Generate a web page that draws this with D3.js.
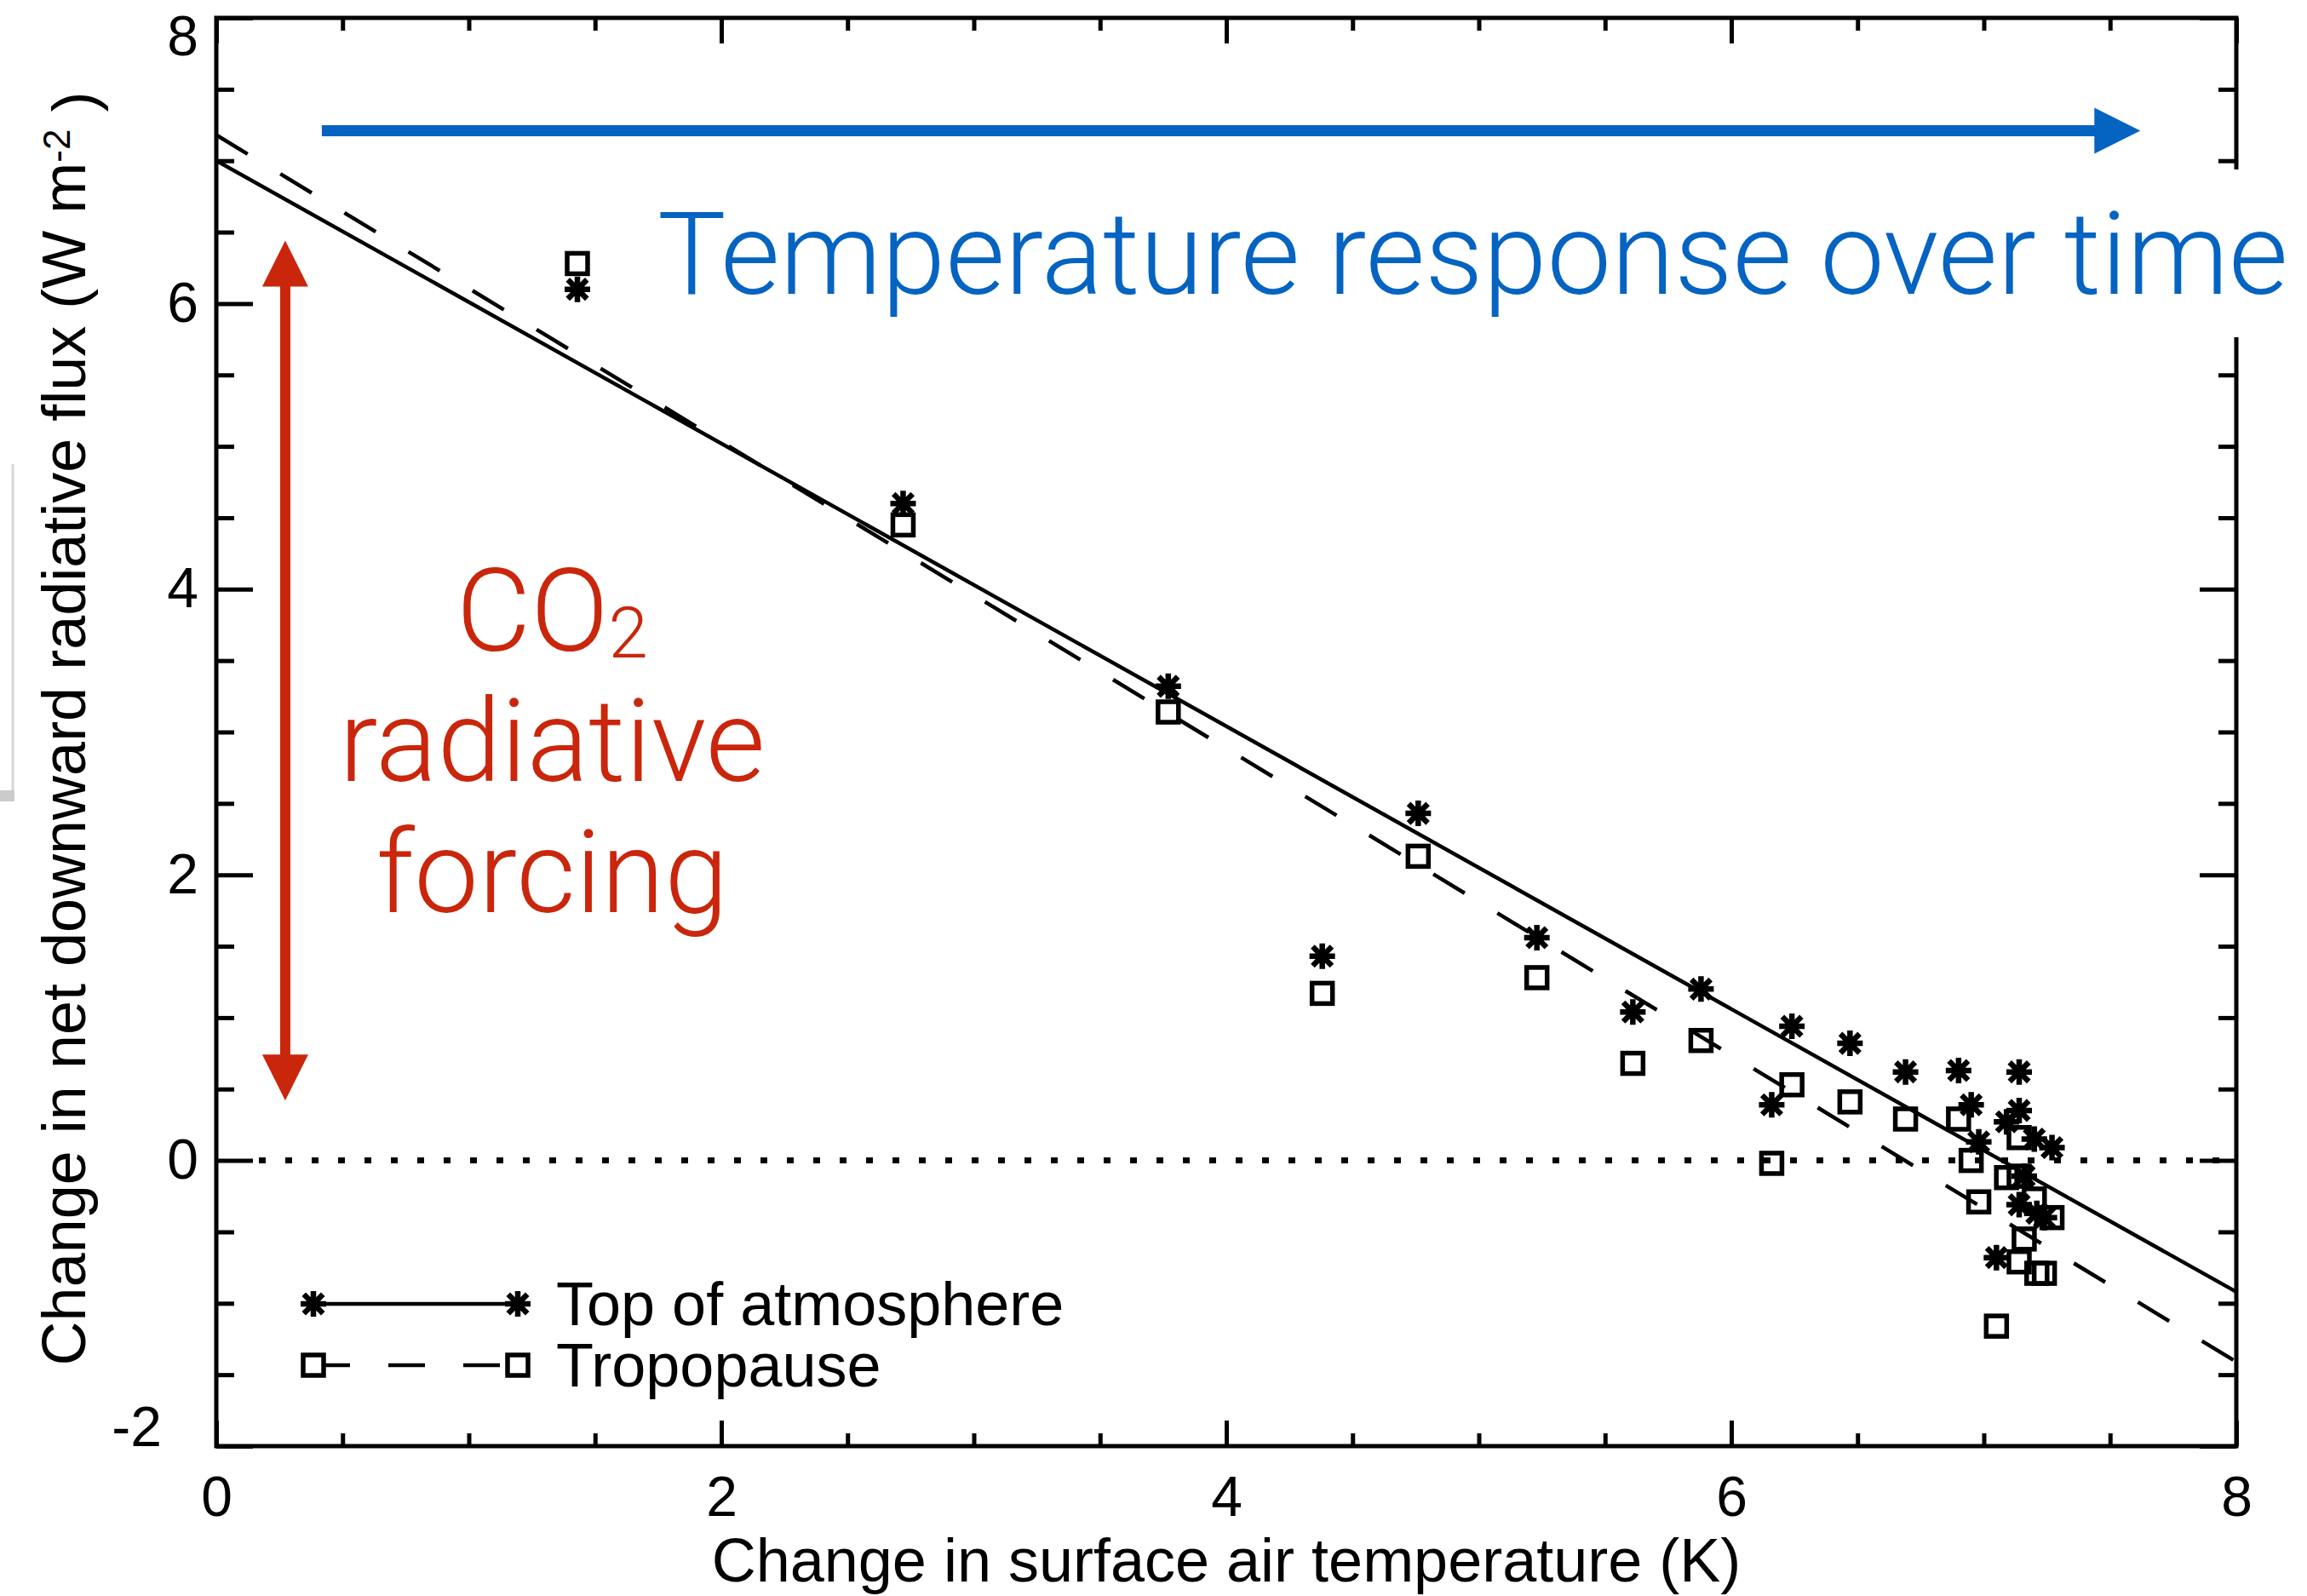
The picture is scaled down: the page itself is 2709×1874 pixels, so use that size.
<!DOCTYPE html>
<html>
<head>
<meta charset="utf-8">
<script src="https://cdn.jsdelivr.net/npm/d3@7"></script>
<style>
  body { margin: 0; background: #fff; }
  svg { display: block; }
</style>
</head>
<body>
<div id="chart"></div>
<script>
// annual means after CO2 quadrupling
const tempChange = [1.43, 2.72, 3.77, 4.38, 4.76, 5.23, 5.61, 5.88, 6.16, 6.24, 6.47, 6.69, 6.90,
  6.95, 6.98, 7.14, 7.14, 7.20, 7.27, 7.09, 7.14, 7.05, 7.16, 7.21, 7.24];
const toaFlux = [6.10, 4.60, 3.32, 1.43, 2.43, 1.56, 1.04, 1.20, 0.39, 0.94, 0.82, 0.62, 0.63,
  0.39, 0.13, 0.62, 0.35, 0.15, 0.09, 0.27, -0.31, -0.68, -0.11, -0.37, -0.40];
const tropFlux = [6.28, 4.45, 3.14, 1.17, 2.13, 1.28, 0.68, 0.84, -0.02, 0.53, 0.41, 0.29, 0.29,
  0.00, -0.29, 0.16, -0.11, -0.27, -0.40, -0.12, -0.71, -1.16, -0.55, -0.79, -0.79];

// regression lines
const fitX = [0, 8];
const toaFit = [7.00, -0.92];
const tropFit = [7.18, -1.41];

const xTicks = [0, 2, 4, 6, 8];
const yTicks = [-2, 0, 2, 4, 6, 8];
const seriesNames = ["Top of atmosphere", "Tropopause"];

const margin = {top: 21, right: 83, bottom: 176, left: 254},
    width = 2709 - margin.left - margin.right,
    height = 1874 - margin.top - margin.bottom;

const labelFont = "'Liberation Sans', Arial, Helvetica, sans-serif";
const noteFont = "Roboto, 'Open Sans', Lato, sans-serif";
const blue = "#0563c1";
const red = "#c9260c";

const svg = d3.select("#chart")
  .append("svg")
    .attr("width", 2709)
    .attr("height", 1874)
    .style("background-color", "white");

// faint leftover edge at far left
svg.append("line")
  .attr("x1", 15).attr("x2", 15).attr("y1", 545).attr("y2", 930)
  .attr("stroke", "#d6d6d6").attr("stroke-width", 3);
svg.append("rect")
  .attr("x", 0).attr("y", 928).attr("width", 17).attr("height", 13)
  .attr("fill", "#cbcbcb");

const g = svg.append("g")
  .attr("transform", `translate(${margin.left},${margin.top})`);

const x = d3.scaleLinear().domain([0, 8]).range([0, width]);
const y = d3.scaleLinear().domain([-2, 8]).range([height, 0]);

const xMinor = d3.range(0, 8.01, 0.5).filter(v => !xTicks.includes(v));
const yMinor = d3.range(-2, 8.01, 0.5).filter(v => !yTicks.includes(v));

function styleAxis(sel) {
  sel.select(".domain").remove();
  sel.selectAll(".tick line").attr("stroke", "black").attr("stroke-width", 5);
  sel.selectAll(".tick text")
    .attr("fill", "black")
    .style("font-family", labelFont)
    .style("font-size", "66px");
}

// zero line
g.append("line")
  .attr("x1", x(0) + 50).attr("x2", x(8))
  .attr("y1", y(0)).attr("y2", y(0))
  .attr("stroke", "black")
  .attr("stroke-width", 7)
  .attr("stroke-dasharray", "8,23");

// fits
const fitLine = d3.line().x(d => x(d[0])).y(d => y(d[1]));
g.append("path")
  .datum(d3.zip(fitX, toaFit))
  .attr("d", fitLine)
  .attr("fill", "none").attr("stroke", "black").attr("stroke-width", 4.5);
g.append("path")
  .datum(d3.zip(fitX, tropFit))
  .attr("d", fitLine)
  .attr("fill", "none").attr("stroke", "black").attr("stroke-width", 4.5)
  .attr("stroke-dasharray", "43,45");

// markers
const star = s => `M${-s},0H${s}M0,${-s}V${s}M${-s*0.75},${-s*0.75}L${s*0.75},${s*0.75}M${-s*0.75},${s*0.75}L${s*0.75},${-s*0.75}`;
const box = 24;

g.selectAll(".trop")
  .data(d3.zip(tempChange, tropFlux))
  .join("rect")
    .attr("class", "trop")
    .attr("x", d => x(d[0]) - box / 2)
    .attr("y", d => y(d[1]) - box / 2)
    .attr("width", box).attr("height", box)
    .attr("fill", "none").attr("stroke", "black").attr("stroke-width", 5.5);

g.selectAll(".toa")
  .data(d3.zip(tempChange, toaFlux))
  .join("path")
    .attr("class", "toa")
    .attr("d", star(15))
    .attr("transform", d => `translate(${x(d[0])},${y(d[1])})`)
    .attr("fill", "none").attr("stroke", "black").attr("stroke-width", 6.5);

// axes
g.append("g")
  .attr("transform", `translate(0,${height})`)
  .call(d3.axisBottom(x).tickValues(xTicks).tickSize(-30).tickPadding(35).tickFormat(d => String(d)))
  .call(styleAxis);
g.append("g")
  .attr("transform", `translate(0,${height})`)
  .call(d3.axisBottom(x).tickValues(xMinor).tickSize(-15).tickFormat(""))
  .call(styleAxis);
g.append("g")
  .call(d3.axisTop(x).tickValues(xTicks).tickSize(-30).tickFormat(""))
  .call(styleAxis);
g.append("g")
  .call(d3.axisTop(x).tickValues(xMinor).tickSize(-15).tickFormat(""))
  .call(styleAxis);

const yAxis = g.append("g")
  .call(d3.axisLeft(y).tickValues(yTicks).tickSize(-43).tickPadding(21).tickFormat(d => String(d)))
  .call(styleAxis);
// end labels are pulled inside the frame
yAxis.selectAll(".tick text").filter(d => d === 8).attr("y", 22);
yAxis.selectAll(".tick text").filter(d => d === -2).attr("y", -22).attr("x", -64);

g.append("g")
  .call(d3.axisLeft(y).tickValues(yMinor).tickSize(-21).tickFormat(""))
  .call(styleAxis);
g.append("g")
  .attr("transform", `translate(${width},0)`)
  .call(d3.axisRight(y).tickValues(yTicks).tickSize(-43).tickFormat(""))
  .call(styleAxis);
g.append("g")
  .attr("transform", `translate(${width},0)`)
  .call(d3.axisRight(y).tickValues(yMinor).tickSize(-21).tickFormat(""))
  .call(styleAxis);

g.append("rect")
  .attr("width", width).attr("height", height)
  .attr("fill", "none").attr("stroke", "black").attr("stroke-width", 5);

// axis titles
g.append("text")
  .attr("x", width / 2)
  .attr("y", height + 159)
  .attr("text-anchor", "middle")
  .style("font-family", labelFont)
  .style("font-size", "72px")
  .text("Change in surface air temperature (K)");

const yTitle = g.append("text")
  .attr("transform", `translate(${100 - margin.left},${height / 2 - 4}) rotate(-90)`)
  .attr("text-anchor", "middle")
  .style("font-family", labelFont)
  .style("font-size", "72px");
yTitle.append("tspan").text("Change in net downward radiative flux (W m");
yTitle.append("tspan").attr("dy", "-0.42em").style("font-size", "44px").text("-2");
yTitle.append("tspan").attr("dy", "0.42em").text(" )");

// legend
const legend = g.append("g").attr("transform", "translate(114,1510)");
const legendRow = 72;
seriesNames.forEach((name, i) => {
  const row = legend.append("g").attr("transform", `translate(0,${i * legendRow})`);
  row.append("line")
    .attr("x1", 0).attr("x2", 240)
    .attr("stroke", "black").attr("stroke-width", 4.5)
    .attr("stroke-dasharray", i === 0 ? null : "43,45");
  [0, 240].forEach(px => {
    if (i === 0) {
      row.append("path").attr("d", star(15)).attr("transform", `translate(${px},0)`)
        .attr("fill", "none").attr("stroke", "black").attr("stroke-width", 6.5);
    } else {
      row.append("rect").attr("x", px - box / 2).attr("y", -box / 2).attr("width", box).attr("height", box)
        .attr("fill", "white").attr("stroke", "black").attr("stroke-width", 5.5);
    }
  });
  row.append("text")
    .attr("x", 285)
    .attr("dy", "0.35em")
    .style("font-family", labelFont)
    .style("font-size", "72px")
    .text(name);
});

// annotations
function arrowHead(sel, tipX, tipY, dx, dy, len, half, color) {
  // dx, dy: unit direction of the arrow
  const bx = tipX - dx * len, by = tipY - dy * len;
  sel.append("path")
    .attr("d", `M${tipX},${tipY}L${bx - dy * half},${by + dx * half}L${bx + dy * half},${by - dx * half}Z`)
    .attr("fill", color);
}

// blue: time arrow
const timeY = y(7.21), timeX0 = x(0.418), timeX1 = x(7.62);
g.append("line")
  .attr("x1", timeX0).attr("x2", timeX1 - 50)
  .attr("y1", timeY).attr("y2", timeY)
  .attr("stroke", blue).attr("stroke-width", 13);
arrowHead(g, timeX1, timeY, 1, 0, 54, 27, blue);

// red: forcing double arrow
const forceX = x(0.273), forceY0 = y(6.44), forceY1 = y(0.42);
g.append("line")
  .attr("x1", forceX).attr("x2", forceX)
  .attr("y1", forceY0 + 50).attr("y2", forceY1 - 50)
  .attr("stroke", red).attr("stroke-width", 12);
arrowHead(g, forceX, forceY0, 0, -1, 54, 27, red);
arrowHead(g, forceX, forceY1, 0, 1, 54, 27, red);

// blue label with white backing box
const noteSize0 = 125;
const timeX = x(1.747), timeBase = y(6.07);
const backing = g.append("rect").attr("fill", "white");
const timeText = g.append("text")
  .attr("x", timeX)
  .attr("y", timeBase)
  .attr("fill", blue)
  .style("font-family", noteFont)
  .style("font-weight", 300)
  .style("font-size", noteSize0 + "px")
  .text("Temperature response over time");
const noteSize = noteSize0 * 1915 / timeText.node().getComputedTextLength();
timeText.style("font-size", noteSize + "px");

backing
  .attr("x", timeX - 14)
  .attr("y", timeBase - 1.08 * noteSize)
  .attr("width", 2709 - margin.left - timeX + 14)
  .attr("height", 1.46 * noteSize);

// red label
const forceText = g.append("text")
  .attr("text-anchor", "middle")
  .attr("fill", red)
  .style("font-family", noteFont)
  .style("font-weight", 300)
  .style("font-size", noteSize + "px");
const co2 = forceText.append("tspan").attr("x", x(1.33)).attr("y", y(3.57));
co2.append("tspan").text("CO");
co2.append("tspan").attr("dy", "0.1em").style("font-size", (noteSize * 0.62) + "px").text("2");
forceText.append("tspan").attr("x", x(1.33)).attr("y", y(2.66)).text("radiative");
forceText.append("tspan").attr("x", x(1.33)).attr("y", y(1.74)).text("forcing");
</script>
</body>
</html>
